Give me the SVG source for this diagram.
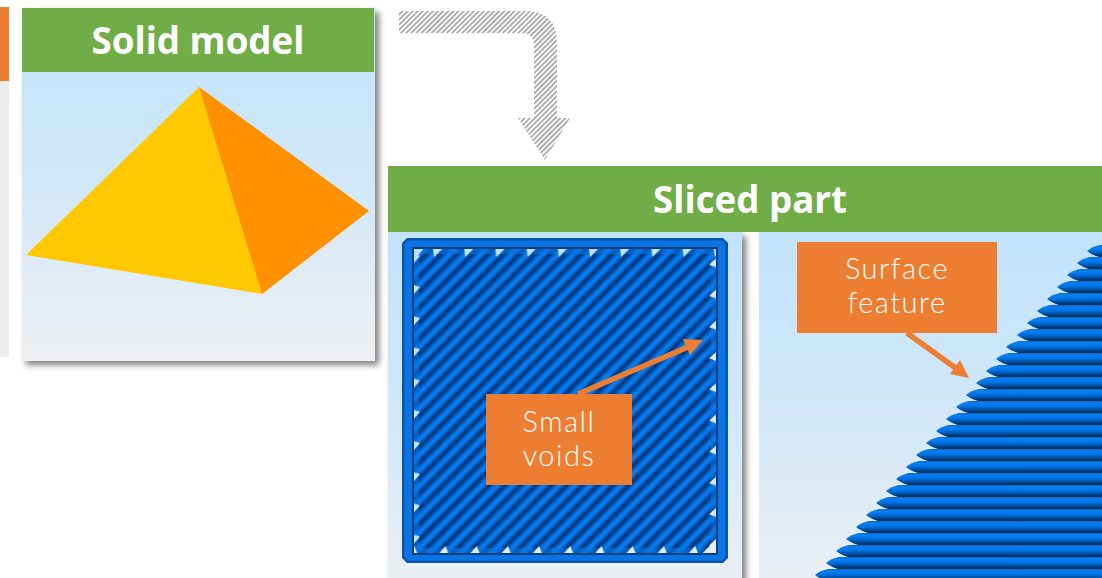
<svg xmlns="http://www.w3.org/2000/svg" xmlns:xlink="http://www.w3.org/1999/xlink" width="1102" height="578" viewBox="0 0 1102 578">
<style>
.hdr{fill:#70AD47}
.ttl{font-family:"Open Sans","Noto Sans",sans-serif;font-weight:700;font-size:36.7px;fill:#fff;text-anchor:middle}
.lbl{font-family:"Lato","Open Sans",sans-serif;font-weight:300;font-size:29px;fill:#fff;text-anchor:middle;letter-spacing:1.5px}
.box{fill:#ED7D31}
.arr{stroke:#ED7D31;stroke-width:5.5;fill:none}
.arh{fill:#ED7D31}
</style>
<defs>
<linearGradient id="sky" x1="0" y1="0" x2="0" y2="1"><stop offset="0" stop-color="#C2E3FB"/><stop offset="0.5" stop-color="#D2E8F8"/><stop offset="1" stop-color="#EEF0F2"/></linearGradient>
<filter id="sh" x="-5%" y="-5%" width="112%" height="112%"><feGaussianBlur in="SourceAlpha" stdDeviation="3"/><feOffset dx="4" dy="4"/><feComponentTransfer><feFuncA type="linear" slope="0.5"/></feComponentTransfer><feMerge><feMergeNode/><feMergeNode in="SourceGraphic"/></feMerge></filter>
<pattern id="hatch" width="3.6" height="3.6" patternUnits="userSpaceOnUse" patternTransform="rotate(-45)"><rect width="3.6" height="3.6" fill="#fff"/><rect width="3.6" height="1.9" fill="#ABABAB"/></pattern>
<linearGradient id="ln" x1="0" y1="0" x2="0" y2="1"><stop offset="0" stop-color="#002F6C"/><stop offset="0.22" stop-color="#0058B8"/><stop offset="0.45" stop-color="#0A7CF0"/><stop offset="0.6" stop-color="#0A7CF0"/><stop offset="0.8" stop-color="#0058B8"/><stop offset="1" stop-color="#002F6C"/></linearGradient>
<pattern id="diag" width="22" height="10.95" patternUnits="userSpaceOnUse" patternTransform="translate(413 252) rotate(-45)"><rect width="22" height="10.95" fill="url(#ln)"/></pattern>
<pattern id="tT" x="433" y="248" width="31.2" height="10" patternUnits="userSpaceOnUse"><polygon points="0,0 10,0 1,9" fill="#C4E2FA"/></pattern>
<pattern id="tL" x="413" y="253.8" width="10" height="31.2" patternUnits="userSpaceOnUse"><polygon points="0,0 0,10 7,2" fill="#CBE6FA"/></pattern>
<pattern id="tR" x="707" y="257.6" width="10" height="31.2" patternUnits="userSpaceOnUse"><polygon points="10,0 10,10 2,7" fill="#D6EAF8"/></pattern>
<pattern id="tB" x="407.4" y="544" width="31.2" height="10" patternUnits="userSpaceOnUse"><polygon points="0,10 10,10 7,2" fill="#E6EEF4"/></pattern>
<linearGradient id="st" x1="0" y1="0" x2="0" y2="1"><stop offset="0" stop-color="#0A66C4"/><stop offset="0.15" stop-color="#0A80F4"/><stop offset="0.45" stop-color="#0070E0"/><stop offset="0.7" stop-color="#004C9C"/><stop offset="0.85" stop-color="#04305E"/><stop offset="1" stop-color="#0A2A50"/></linearGradient>
<path id="stripe" d="M0,0Q5,-4.5 13,-6H420V7H16Q6,5 0,0Z" fill="url(#st)"/>
</defs>

<g id="left-fragment">
<rect x="0" y="7" width="9" height="74" class="box"/>
<rect x="0" y="81" width="9" height="276" fill="#EDEDED"/>
</g>

<g id="solid-model">
<rect x="22" y="8" width="353" height="353" fill="url(#sky)" filter="url(#sh)"/>
<rect x="22" y="8" width="352" height="64" class="hdr"/>
<text class="ttl" x="198" y="54">Solid model</text>
<polygon points="199,87 262,294 26,255" fill="#FFC800"/>
<polygon points="199,87 369,211 262,294" fill="#FF9000"/>
</g>

<g id="connectors">
<path d="M399,11H525Q557,11 557,43V118H570L545,160L518,118H534V46Q534,33 521,33H399Z" fill="url(#hatch)"/>
</g>

<g id="sliced-part">
<rect x="388" y="232" width="354" height="370" fill="url(#sky)" filter="url(#sh)"/>
<rect x="759" y="232" width="343" height="370" fill="url(#sky)"/>
<rect x="388" y="166" width="714" height="66" class="hdr"/>
<text class="ttl" x="750" y="213">Sliced part</text>
</g>

<g id="layer-square">
<path d="M407,238H723L728,243V558L723,563H407L402,558V243Z" fill="#0A56A8"/>
<path d="M408,240.5H722L725.5,244V557L722,560.5H408L404.5,557V244Z" fill="#0A74E4"/>
<rect x="413" y="248" width="304" height="306" fill="url(#diag)"/>
<rect x="416" y="251" width="298" height="300" fill="none" stroke="#0A74E4" stroke-width="6" stroke-opacity="0.6"/>
<rect x="413" y="248" width="304" height="10" fill="url(#tT)"/>
<rect x="413" y="248" width="10" height="306" fill="url(#tL)"/>
<rect x="707" y="248" width="10" height="306" fill="url(#tR)"/>
<rect x="413" y="544" width="304" height="10" fill="url(#tB)"/>
<polygon points="413,248 424,248 413,262" fill="#BEDFF9"/>
<polygon points="717,554 702,554 717,538" fill="#E6EEF4"/>
<rect x="413" y="248" width="304" height="306" fill="none" stroke="#0A4080" stroke-width="2"/>
</g>

<g id="layer-edge">
<use xlink:href="#stripe" href="#stripe" x="1087" y="251"/>
<use xlink:href="#stripe" href="#stripe" x="1077" y="263"/>
<use xlink:href="#stripe" href="#stripe" x="1067" y="275"/>
<use xlink:href="#stripe" href="#stripe" x="1057" y="287"/>
<use xlink:href="#stripe" href="#stripe" x="1047" y="299"/>
<use xlink:href="#stripe" href="#stripe" x="1037" y="311"/>
<use xlink:href="#stripe" href="#stripe" x="1027" y="323"/>
<use xlink:href="#stripe" href="#stripe" x="1017" y="335"/>
<use xlink:href="#stripe" href="#stripe" x="1006" y="347"/>
<use xlink:href="#stripe" href="#stripe" x="996" y="359"/>
<use xlink:href="#stripe" href="#stripe" x="986" y="371"/>
<use xlink:href="#stripe" href="#stripe" x="976" y="383"/>
<use xlink:href="#stripe" href="#stripe" x="966" y="395"/>
<use xlink:href="#stripe" href="#stripe" x="956" y="407"/>
<use xlink:href="#stripe" href="#stripe" x="946" y="419"/>
<use xlink:href="#stripe" href="#stripe" x="936" y="431"/>
<use xlink:href="#stripe" href="#stripe" x="926" y="443"/>
<use xlink:href="#stripe" href="#stripe" x="916" y="455"/>
<use xlink:href="#stripe" href="#stripe" x="906" y="467"/>
<use xlink:href="#stripe" href="#stripe" x="896" y="479"/>
<use xlink:href="#stripe" href="#stripe" x="886" y="491"/>
<use xlink:href="#stripe" href="#stripe" x="876" y="503"/>
<use xlink:href="#stripe" href="#stripe" x="866" y="515"/>
<use xlink:href="#stripe" href="#stripe" x="856" y="527"/>
<use xlink:href="#stripe" href="#stripe" x="846" y="539"/>
<use xlink:href="#stripe" href="#stripe" x="836" y="551"/>
<use xlink:href="#stripe" href="#stripe" x="826" y="563"/>
<use xlink:href="#stripe" href="#stripe" x="815" y="575"/>
</g>

<g id="arrow-small-voids">
<line x1="578" y1="394" x2="688" y2="347" class="arr"/>
<polygon points="703,340 683,339 690,355" class="arh"/>
</g>
<g id="arrow-surface-feature">
<line x1="907" y1="333" x2="957" y2="369" class="arr"/>
<polygon points="969,378 950,374 960,360" class="arh"/>
</g>

<g id="small-voids">
<rect x="486" y="394" width="146" height="91" class="box"/>
<text class="lbl" x="559" y="432">Small</text>
<text class="lbl" x="559" y="466">voids</text>
</g>
<g id="surface-feature">
<rect x="797" y="242" width="200" height="91" class="box"/>
<text class="lbl" x="897" y="279">Surface</text>
<text class="lbl" x="897" y="313">feature</text>
</g>
</svg>
